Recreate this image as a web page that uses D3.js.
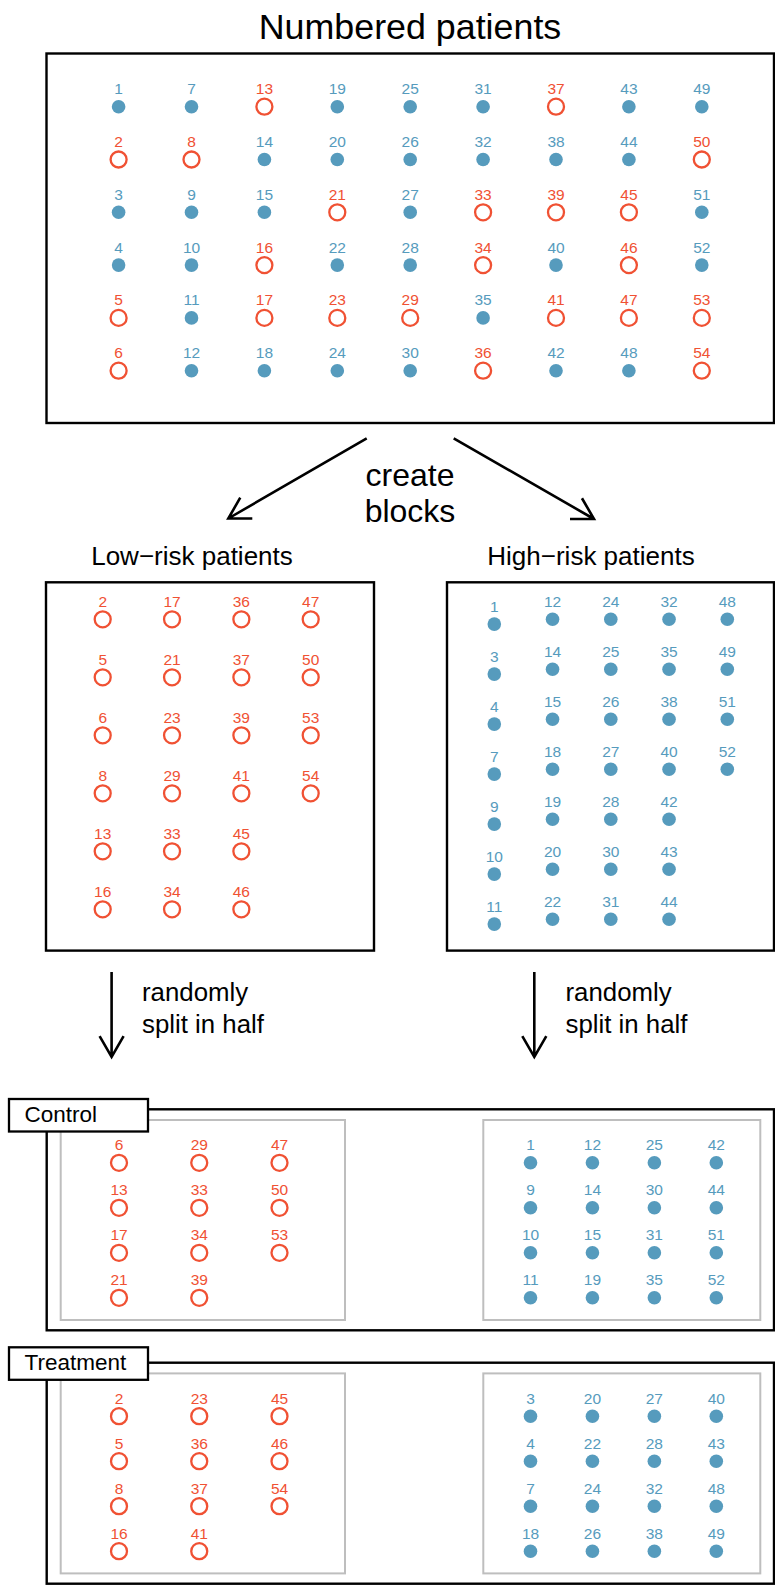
<!DOCTYPE html>
<html>
<head>
<meta charset="utf-8">
<script src="https://cdn.jsdelivr.net/npm/d3@7"></script>
<style>
  html, body { margin: 0; padding: 0; background: #fff; }
  svg { display: block; }
  text { font-family: "Liberation Sans", Arial, Helvetica, sans-serif; }
</style>
</head>
<body>
<svg id="chart" width="775" height="1585"></svg>
<script>
// ---------------- DATA ----------------
const patientIds = [1,2,3,4,5,6,7,8,9,10,11,12,13,14,15,16,17,18,19,20,21,22,23,24,25,26,27,
  28,29,30,31,32,33,34,35,36,37,38,39,40,41,42,43,44,45,46,47,48,49,50,51,52,53,54];
const lowRiskIds = [2,5,6,8,13,16,17,21,23,29,33,34,36,37,39,41,45,46,47,50,53,54];

const lowBlockCols  = [[2,5,6,8,13,16],[17,21,23,29,33,34],[36,37,39,41,45,46],[47,50,53,54]];
const highBlockCols = [[1,3,4,7,9,10,11],[12,14,15,18,19,20,22],[24,25,26,27,28,30,31],
                       [32,35,38,40,42,43,44],[48,49,51,52]];

const controlLowCols  = [[6,13,17,21],[29,33,34,39],[47,50,53]];
const controlHighCols = [[1,9,10,11],[12,14,15,19],[25,30,31,35],[42,44,51,52]];
const treatLowCols    = [[2,5,8,16],[23,36,37,41],[45,46,54]];
const treatHighCols   = [[3,4,7,18],[20,22,24,26],[27,28,32,38],[40,43,48,49]];

const titleText = "Numbered patients";
const blockText = ["create", "blocks"];
const lowTitle = "Low\u2212risk patients";
const highTitle = "High\u2212risk patients";
const splitText = ["randomly", "split in half"];
const groupNames = ["Control", "Treatment"];

// ---------------- STYLE ----------------
const RED = "#F05133", BLUE = "#569BBD";
const isLow = id => lowRiskIds.includes(id);
const svg = d3.select("#chart");

function drawPoints(g, cols, xScale, yScale, colShift) {
  cols.forEach((col, ci) => {
    col.forEach((id, ri) => {
      const cx = xScale(ci), cy = yScale(ri) + (colShift ? colShift(ci) : 0);
      const low = isLow(id);
      g.append("text")
        .attr("x", cx).attr("y", cy - 12.6)
        .attr("text-anchor", "middle")
        .attr("font-size", 15.5)
        .attr("fill", low ? RED : BLUE)
        .text(id);
      if (low) {
        g.append("circle").attr("cx", cx).attr("cy", cy).attr("r", 8)
          .attr("fill", "none").attr("stroke", RED).attr("stroke-width", 2.3);
      } else {
        g.append("circle").attr("cx", cx).attr("cy", cy).attr("r", 6.8)
          .attr("fill", BLUE);
      }
    });
  });
}

function arrow(x1, y1, x2, y2) {
  const ang = Math.atan2(y2 - y1, x2 - x1), L = 24, a = Math.PI / 6;
  const p = d3.path();
  p.moveTo(x1, y1); p.lineTo(x2, y2);
  p.moveTo(x2 - L * Math.cos(ang - a), y2 - L * Math.sin(ang - a));
  p.lineTo(x2, y2);
  p.lineTo(x2 - L * Math.cos(ang + a), y2 - L * Math.sin(ang + a));
  svg.append("path").attr("d", p.toString())
    .attr("fill", "none").attr("stroke", "#000").attr("stroke-width", 2.6);
}

function box(x, y, w, h, stroke, sw) {
  svg.append("rect").attr("x", x).attr("y", y).attr("width", w).attr("height", h)
    .attr("fill", "none").attr("stroke", stroke).attr("stroke-width", sw);
}

// ---------------- TOP: numbered patients ----------------
svg.append("text").attr("x", 410).attr("y", 38.5).attr("text-anchor", "middle")
  .attr("font-size", 35.8).text(titleText);
box(46.5, 53.5, 727.5, 369.5, "#000", 2.4);

const topCols = d3.range(9).map(c => patientIds.slice(c * 6, c * 6 + 6));
const xTop = d3.scaleLinear().domain([0, 8]).range([118.6, 701.8]);
const yTop = d3.scaleLinear().domain([0, 5]).range([106.7, 370.7]);
drawPoints(svg.append("g"), topCols, xTop, yTop);

// ---------------- arrows & "create blocks" ----------------
arrow(366.7, 438.3, 228.3, 518.5);
arrow(453.7, 438.3, 594, 519);
blockText.forEach((t, i) => {
  svg.append("text").attr("x", 410).attr("y", 485.5 + i * 36.5).attr("text-anchor", "middle")
    .attr("font-size", 32).text(t);
});

// ---------------- blocks ----------------
svg.append("text").attr("x", 192).attr("y", 565).attr("text-anchor", "middle")
  .attr("font-size", 26).text(lowTitle);
svg.append("text").attr("x", 591).attr("y", 565).attr("text-anchor", "middle")
  .attr("font-size", 26).text(highTitle);

box(46, 582.3, 328, 368.3, "#000", 2.4);
box(447, 582.3, 327, 368.3, "#000", 2.4);

const xLow = d3.scaleLinear().domain([0, 3]).range([102.7, 310.7]);
const yLow = d3.scaleLinear().domain([0, 5]).range([619.3, 909.3]);
drawPoints(svg.append("g"), lowBlockCols, xLow, yLow);

const xHigh = d3.scaleLinear().domain([0, 4]).range([494.3, 727.3]);
const yHigh = d3.scaleLinear().domain([0, 6]).range([619.3, 919.3]);
drawPoints(svg.append("g"), highBlockCols, xHigh, yHigh, ci => ci === 0 ? 4.8 : 0);

// ---------------- split arrows ----------------
arrow(111.6, 972, 111.6, 1057);
arrow(534.3, 972, 534.3, 1057);
[142, 565.5].forEach(x => {
  splitText.forEach((t, i) => {
    svg.append("text").attr("x", x).attr("y", 1001 + i * 31.5)
      .attr("font-size", 25.8).text(t);
  });
});

// ---------------- groups ----------------
const groupTops = [1109.3, 1362.7];
const labelBoxTops = [1099, 1347.3];
const groupData = [[controlLowCols, controlHighCols], [treatLowCols, treatHighCols]];
groupTops.forEach((top, gi) => {
  box(46.7, top, 727.3, 221, "#000", 2.4);
  box(60.7, top + 10.7, 284.3, 200, "#BEBEBE", 2);
  box(483.3, top + 10.7, 277, 200, "#BEBEBE", 2);
  svg.append("rect").attr("x", 9).attr("y", labelBoxTops[gi]).attr("width", 139).attr("height", 32.5)
    .attr("fill", "#fff").attr("stroke", "#000").attr("stroke-width", 2.3);
  svg.append("text").attr("x", 24.5).attr("y", labelBoxTops[gi] + 23)
    .attr("font-size", 22.5).text(groupNames[gi]);

  const yG = d3.scaleLinear().domain([0, 3]).range([top + 53.5, top + 188.5]);
  const xL = d3.scaleLinear().domain([0, 2]).range([119, 279.5]);
  const xR = d3.scaleLinear().domain([0, 3]).range([530.5, 716.3]);
  drawPoints(svg.append("g"), groupData[gi][0], xL, yG);
  drawPoints(svg.append("g"), groupData[gi][1], xR, yG);
});
</script>
</body>
</html>
